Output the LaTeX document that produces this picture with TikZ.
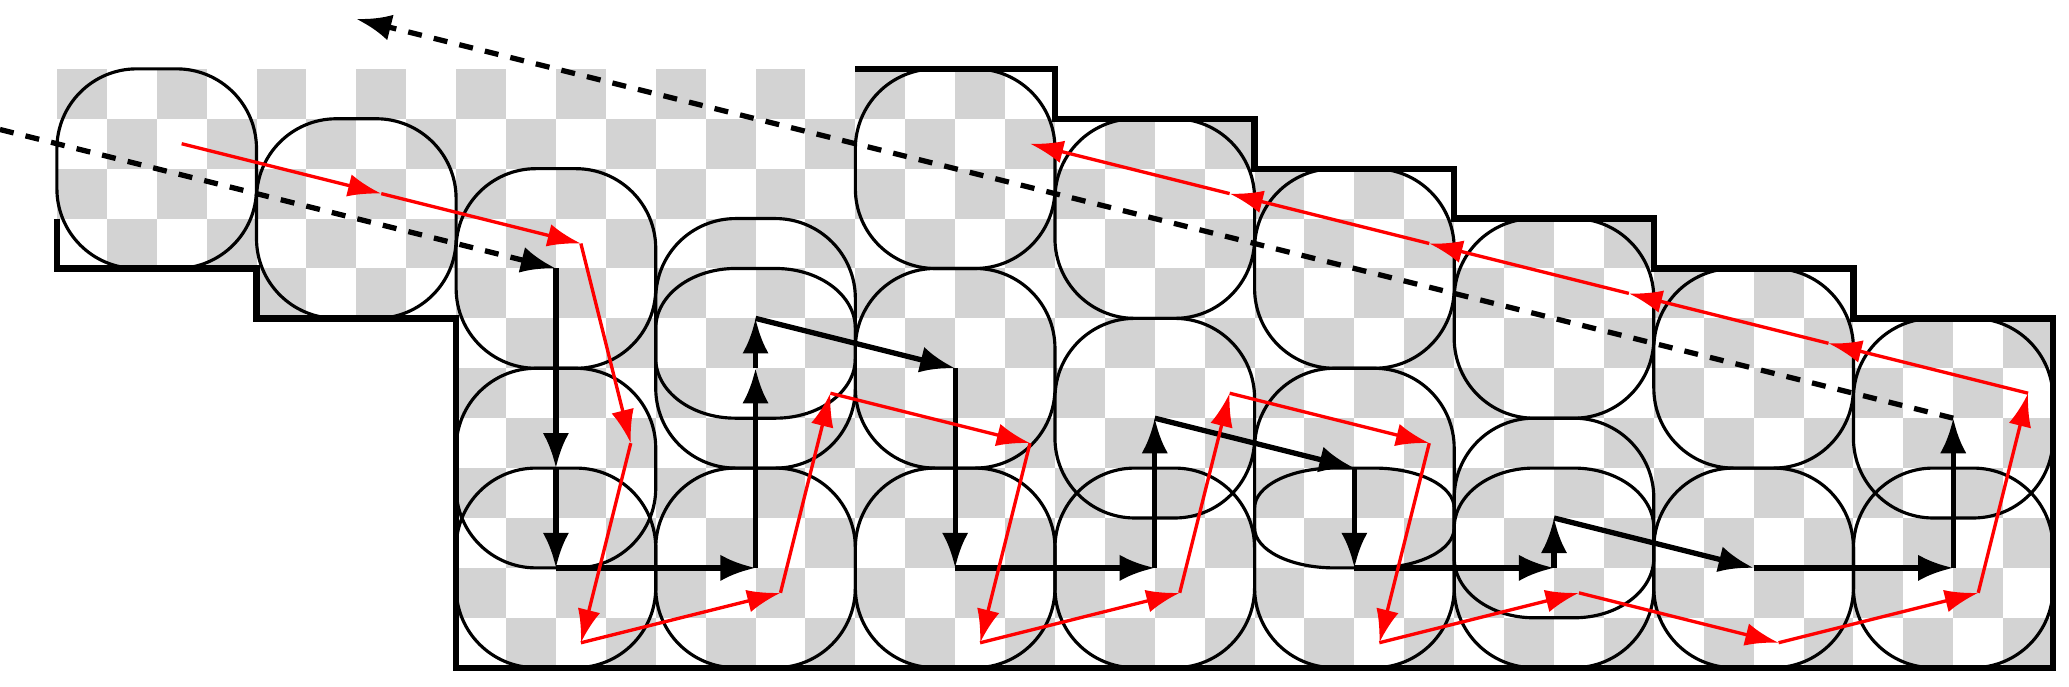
\documentclass[tikz,border=0pt]{standalone}
\usepackage{xcolor}
\usepackage{tikz}
\usetikzlibrary{arrows.meta}
\definecolor{checkgray}{RGB}{211,211,211}

\begin{document}
\begin{tikzpicture}[>={Latex[length=20pt,width=15pt]},
		walk/.style={->,line width=3pt},
		ray/.style={->,line width=3pt,dash pattern=on 8pt off 7pt},
		bounce/.style={-{Latex[length=19pt,width=13pt]},red,line width=1.9pt},
		blob/.style={black,line width=1.8pt}]
		\useasboundingbox (-1.14,-0.37) rectangle (40.32,13.38);
		%checkerboard
		\begin{scope}
			\clip (0,8) -- (4,8) -- (4,7) -- (8,7) -- (8,0) -- (40,0) -- (40,7) -- (36,7) -- (36,8) -- (32,8) -- (32,9) -- (28,9) -- (28,10) -- (24,10) -- (24,11) -- (20,11) -- (20,12) -- (0,12) -- cycle;
			\foreach \i in {0,...,39}
				\foreach \j in {0,...,11}
					{\ifodd\numexpr\i+\j\relax \fill[checkgray] (\i,\j) rectangle ++(1,1); \fi}
		\end{scope}
		%rounded cells
		\foreach \x/\y/\h/\ry in {0/8/4/1.6, 4/7/4/1.6, 8/6/4/1.6, 8/2/4/1.6, 8/0/4/1.6, 12/4/5/1.6, 12/5/3/1.2, 12/0/4/1.6, 16/8/4/1.6, 16/4/4/1.6, 16/0/4/1.6, 20/7/4/1.6, 20/3/4/1.6, 20/0/4/1.6, 24/6/4/1.6, 24/0/6/1.6, 24/2/2/0.8, 28/5/4/1.6, 28/0/5/1.6, 28/1/3/1.2, 32/4/4/1.6, 32/0/4/1.6, 36/3/4/1.6, 36/0/4/1.6}
			\draw[blob] (\x+1.6,\y) -- (\x+2.4,\y) arc[start angle=-90,end angle=0,x radius=1.6,y radius=\ry] -- (\x+4,\y+\h-\ry) arc[start angle=0,end angle=90,x radius=1.6,y radius=\ry] -- (\x+1.6,\y+\h) arc[start angle=90,end angle=180,x radius=1.6,y radius=\ry] -- (\x,\y+\ry) arc[start angle=180,end angle=270,x radius=1.6,y radius=\ry] -- cycle;
		%boundary
		\draw[line width=3.6pt] (0,9) -- (0,8) -- (4,8) -- (4,7) -- (8,7) -- (8,0) -- (40,0) -- (40,7) -- (36,7) -- (36,8) -- (32,8) -- (32,9) -- (28,9) -- (28,10) -- (24,10) -- (24,11) -- (20,11) -- (20,12) -- (16,12);
		%incoming ray
		\draw[ray] (-1.14,10.785) -- (10,8);
		%cell walk
		\foreach \x/\y [remember=\x as \lx (initially 10),remember=\y as \ly (initially 8)] in {10/4,10/2,14/2,14/6,14/7,18/6,18/2,22/2,22/5,26/4,26/2,30/2,30/3,34/2,38/2,38/5}
			\draw[walk] (\lx,\ly) -- (\x,\y);
		%outgoing ray
		\draw[ray] (38,5) -- (6,13);
		%bouncing path
		\foreach \x/\y [remember=\x as \lx (initially 2.5),remember=\y as \ly (initially 10.5)] in {6.5/9.5,10.5/8.5,11.5/4.5,10.5/0.5,14.5/1.5,15.5/5.5,19.5/4.5,18.5/0.5,22.5/1.5,23.5/5.5,27.5/4.5,26.5/0.5,30.5/1.5,34.5/0.5,38.5/1.5,39.5/5.5,35.5/6.5,31.5/7.5,27.5/8.5,23.5/9.5,19.5/10.5}
			\draw[bounce] (\lx,\ly) -- (\x,\y);
	\end{tikzpicture}
\end{document}
